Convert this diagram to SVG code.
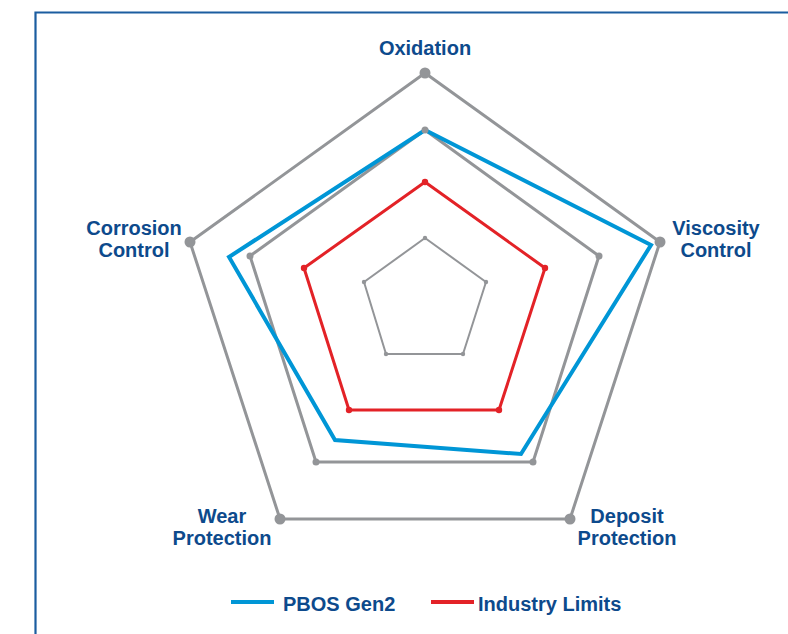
<svg xmlns="http://www.w3.org/2000/svg" width="788" height="634" viewBox="0 0 788 634">
<style>
.lbl{font-family:"Liberation Sans",Arial,sans-serif;font-weight:bold;font-size:20px;fill:#0d4a8c;text-anchor:middle}
.leg{font-family:"Liberation Sans",Arial,sans-serif;font-weight:bold;font-size:20px;fill:#0d4a8c}
.g{fill:none;stroke:#939598;stroke-linejoin:round}
.gd{fill:#939598}
</style>
<rect width="788" height="634" fill="#fff"/>
<path d="M35.5,634 V12.5 H788" fill="none" stroke="#1b5da0" stroke-width="2.2"/>
<g id="connectors">
<polygon id="outer" class="g" stroke-width="3" points="425,73 660,242 570,519 280,519 190,242"/>
<polygon id="middle" class="g" stroke-width="3" points="425,130 599,256 533,462 316,462 250,256"/>
<polygon id="inner" class="g" stroke-width="2" points="425,238 486,282 463,354 386,354 364,282"/>
<polygon id="blue" fill="none" stroke="#0096d6" stroke-width="4" stroke-linejoin="miter" points="425,130 651,245 521,454 335,440 229,257"/>
<polygon id="red" fill="none" stroke="#e32227" stroke-width="3" stroke-linejoin="round" points="425,182 545,268 499,410 349,410 304,268"/>
<g class="gd">
<circle cx="425" cy="73" r="5.5"/><circle cx="660" cy="242" r="5.5"/><circle cx="570" cy="519" r="5.5"/><circle cx="280" cy="519" r="5.5"/><circle cx="190" cy="242" r="5.5"/>
<circle cx="425" cy="130" r="3.5"/><circle cx="599" cy="256" r="3.5"/><circle cx="533" cy="462" r="3.5"/><circle cx="316" cy="462" r="3.5"/><circle cx="250" cy="256" r="3.5"/>
<circle cx="425" cy="238" r="2.2"/><circle cx="486" cy="282" r="2.2"/><circle cx="463" cy="354" r="2.2"/><circle cx="386" cy="354" r="2.2"/><circle cx="364" cy="282" r="2.2"/>
</g>
<g fill="#e32227">
<circle cx="425" cy="182" r="3.2"/><circle cx="545" cy="268" r="3.2"/><circle cx="499" cy="410" r="3.2"/><circle cx="349" cy="410" r="3.2"/><circle cx="304" cy="268" r="3.2"/>
</g>
</g>
<g id="oxidation"><text class="lbl" x="425" y="55">Oxidation</text></g>
<g id="viscosity"><text class="lbl" x="716" y="235">Viscosity</text><text class="lbl" x="716" y="257">Control</text></g>
<g id="corrosion"><text class="lbl" x="134" y="235">Corrosion</text><text class="lbl" x="134" y="257">Control</text></g>
<g id="wear"><text class="lbl" x="222" y="523">Wear</text><text class="lbl" x="222" y="545">Protection</text></g>
<g id="deposit"><text class="lbl" x="627" y="523">Deposit</text><text class="lbl" x="627" y="545">Protection</text></g>
<g id="legend">
<line x1="231" y1="602" x2="274" y2="602" stroke="#0096d6" stroke-width="4"/>
<text class="leg" x="283" y="611">PBOS Gen2</text>
<line x1="431" y1="602" x2="474" y2="602" stroke="#e32227" stroke-width="4"/>
<text class="leg" x="478" y="611">Industry Limits</text>
</g>
</svg>
